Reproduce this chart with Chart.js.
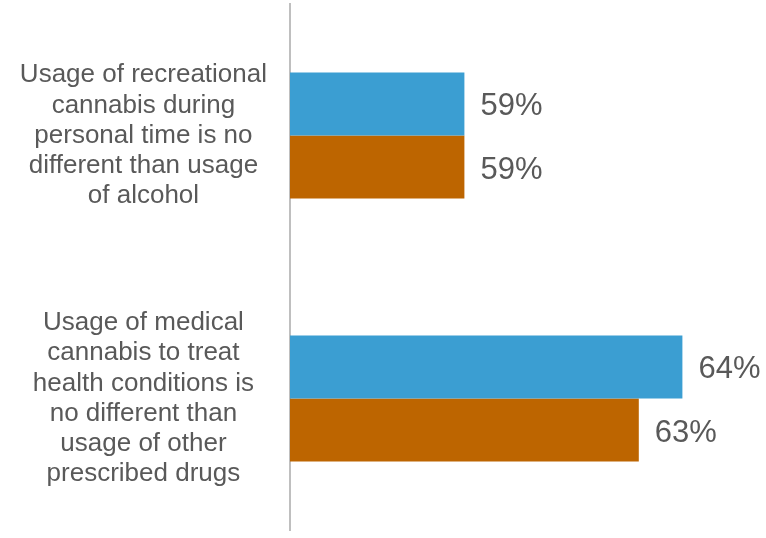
<!DOCTYPE html>
<html>
<head>
<meta charset="utf-8">
<script src="https://cdn.jsdelivr.net/npm/chart.js@4"></script>
<style>
  html, body { margin: 0; padding: 0; background: #fff; }
  #wrap { width: 766px; height: 538px; }
</style>
</head>
<body>
<div id="wrap"><canvas id="chart"></canvas></div>
<script>
const categories = [
    ['Usage of recreational', 'cannabis during', 'personal time is no', 'different than usage', 'of alcohol'],
    ['Usage of medical', 'cannabis to treat', 'health conditions is', 'no different than', 'usage of other', 'prescribed drugs']
];
const seriesA = [59, 64];
const seriesB = [59, 63];

const textGray = '#595959';

// percent labels just right of each bar end
const valueLabels = {
    id: 'valueLabels',
    afterDatasetsDraw(chart) {
        const ctx = chart.ctx;
        ctx.save();
        ctx.font = '31px "Liberation Sans", Arial, sans-serif';
        ctx.fillStyle = textGray;
        ctx.textAlign = 'left';
        ctx.textBaseline = 'middle';
        chart.data.datasets.forEach(function(ds, i) {
            chart.getDatasetMeta(i).data.forEach(function(bar, j) {
                ctx.fillText(ds.data[j] + '%', bar.x + 16, bar.y + 3);
            });
        });
        ctx.restore();
    }
};

new Chart(document.getElementById('chart').getContext('2d'), {
    type: 'bar',
    data: {
        labels: categories,
        datasets: [{
            label: 'A',
            data: seriesA,
            backgroundColor: '#3b9ed2'
        }, {
            label: 'B',
            data: seriesB,
            backgroundColor: '#bd6500'
        }]
    },
    options: {
        indexAxis: 'y',
        responsive: true,
        maintainAspectRatio: false,
        animation: false,
        layout: { padding: { left: 15, right: 40, top: 4, bottom: 8 } },
        datasets: {
            bar: { categoryPercentage: 0.48, barPercentage: 1.0 }
        },
        plugins: {
            legend: { display: false },
            tooltip: { enabled: false }
        },
        scales: {
            x: {
                display: false,
                min: 55,
                max: 65
            },
            y: {
                afterFit: function(scale) {
                    scale.width = 275;
                    scale.paddingTop = 0;
                    scale.paddingBottom = 0;
                },
                border: { color: '#bfbfbf', width: 2 },
                grid: { display: false, drawTicks: false },
                ticks: {
                    crossAlign: 'center',
                    padding: 23,
                    color: textGray,
                    font: { family: '"Liberation Sans", Arial, sans-serif', size: 26, lineHeight: 1.16 }
                }
            }
        }
    },
    plugins: [valueLabels]
});
</script>
</body>
</html>
